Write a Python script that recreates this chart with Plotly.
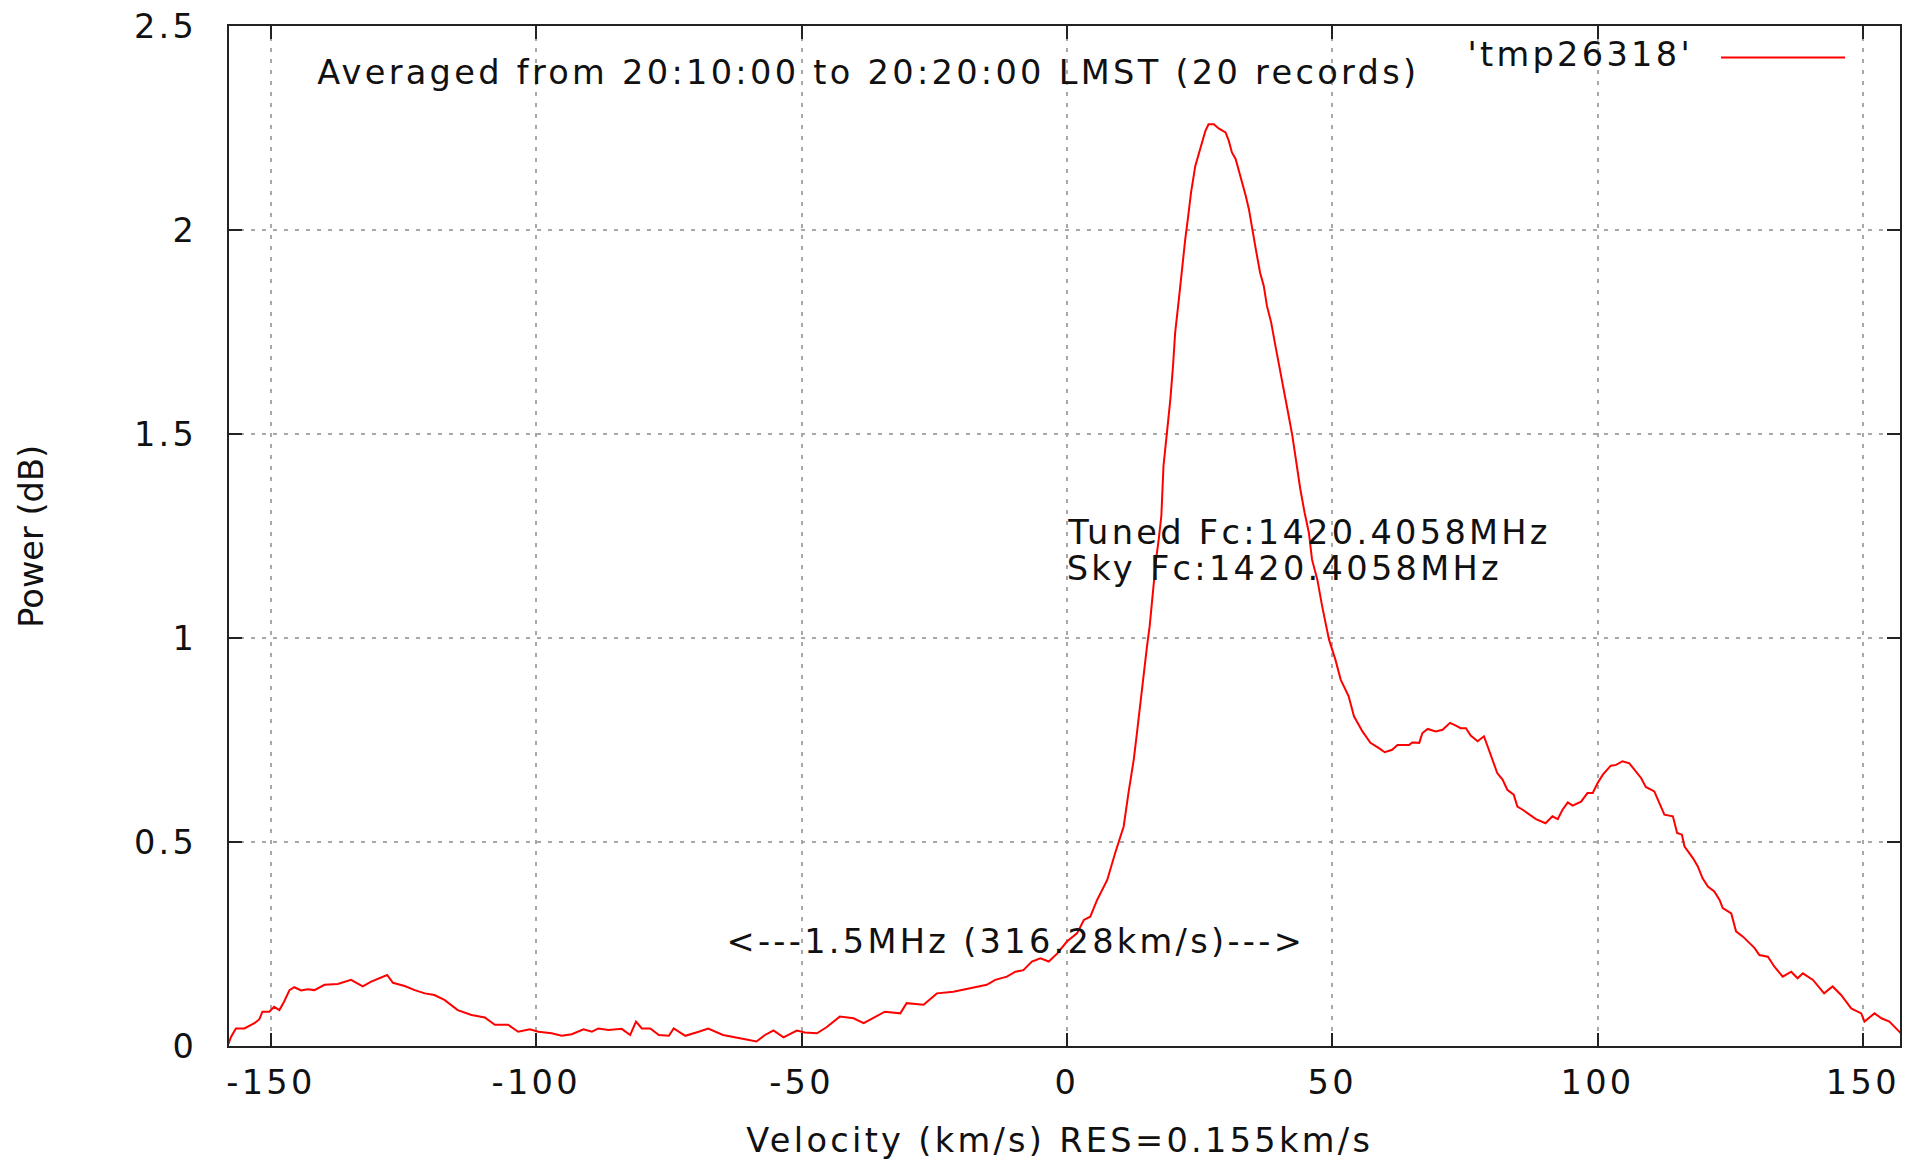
import plotly.graph_objects as go

# Averaged HI spectrum: velocity (km/s) vs power (dB)
velocity = [
    -158.0, -157.5, -156.6, -155.0, -153.1, -152.2, -151.6, -150.3, -149.4, -148.4,
    -147.5, -146.5, -145.6, -144.3, -143.1, -141.8, -139.9, -137.4, -134.9, -132.7,
    -131.1, -129.6, -128.1, -127.0, -124.8, -122.9, -121.0, -119.2, -117.3, -114.8,
    -112.2, -109.7, -107.8, -105.3, -103.4, -101.2, -99.6, -97.1, -95.2, -93.3,
    -91.1, -89.5, -88.3, -86.4, -83.9, -82.3, -81.2, -80.1, -78.5, -76.9,
    -75.0, -74.1, -71.9, -69.4, -67.6, -64.8, -62.9, -60.4, -58.5, -56.9,
    -55.3, -53.4, -50.9, -49.4, -47.1, -45.3, -42.8, -40.2, -38.3, -36.5,
    -34.3, -31.4, -30.2, -27.0, -24.5, -21.4, -18.2, -15.1, -13.5, -11.3,
    -9.7, -8.2, -6.6, -5.0, -3.4, -1.8, 0.0, 1.9, 3.2, 4.4,
    5.7, 7.6, 9.1, 10.7, 11.6, 12.6, 13.2, 13.8, 14.4, 15.1,
    15.6, 16.1, 16.8, 17.3, 17.8, 18.2, 18.9, 19.5, 20.0, 20.4,
    21.1, 21.7, 22.3, 22.8, 23.4, 24.2, 25.2, 26.1, 26.7, 27.7,
    28.6, 29.9, 30.5, 31.1, 31.8, 32.4, 33.0, 33.7, 34.3, 34.9,
    35.6, 36.4, 37.1, 37.7, 38.5, 39.3, 40.3, 40.9, 41.8, 42.5,
    43.1, 44.0, 44.8, 45.6, 46.2, 47.2, 48.1, 49.4, 50.6, 51.6,
    53.1, 54.1, 55.7, 57.2, 58.8, 59.9, 61.3, 62.3, 64.5, 65.1,
    66.4, 67.0, 68.0, 69.5, 70.8, 72.2, 73.3, 74.2, 75.2, 76.1,
    77.4, 78.6, 79.3, 80.2, 81.1, 82.1, 83.0, 84.2, 84.9, 85.9,
    87.1, 88.4, 90.2, 91.5, 92.5, 93.4, 94.4, 95.3, 96.9, 98.1,
    99.1, 100.0, 101.0, 102.5, 103.5, 104.7, 106.0, 107.2, 108.2, 109.1,
    110.7, 112.6, 114.2, 115.0, 115.9, 116.4, 118.0, 118.9, 119.8, 120.8,
    122.0, 123.0, 123.6, 125.2, 126.1, 127.4, 128.3, 129.6, 130.5, 132.1,
    133.3, 134.9, 136.5, 137.7, 138.7, 140.6, 142.7, 144.3, 145.9, 147.8,
    149.7, 150.3, 152.2, 153.5, 155.0, 156.9, 157.4,
]
power_db = [
    0.005, 0.023, 0.043, 0.043, 0.056, 0.065, 0.084, 0.084, 0.096, 0.088,
    0.109, 0.137, 0.144, 0.136, 0.139, 0.137, 0.150, 0.152, 0.162, 0.146,
    0.158, 0.166, 0.174, 0.155, 0.147, 0.137, 0.129, 0.125, 0.113, 0.088,
    0.076, 0.070, 0.052, 0.052, 0.035, 0.041, 0.035, 0.031, 0.025, 0.029,
    0.041, 0.035, 0.043, 0.039, 0.042, 0.027, 0.060, 0.043, 0.043, 0.027,
    0.025, 0.043, 0.025, 0.035, 0.043, 0.027, 0.023, 0.016, 0.011, 0.027,
    0.038, 0.021, 0.038, 0.033, 0.031, 0.046, 0.072, 0.068, 0.056, 0.068,
    0.084, 0.080, 0.105, 0.101, 0.129, 0.133, 0.141, 0.150, 0.162, 0.170,
    0.182, 0.186, 0.207, 0.215, 0.207, 0.227, 0.256, 0.276, 0.309, 0.317,
    0.358, 0.407, 0.473, 0.538, 0.620, 0.702, 0.767, 0.833, 0.914, 0.980,
    1.029, 1.102, 1.192, 1.241, 1.299, 1.421, 1.503, 1.585, 1.667, 1.748,
    1.830, 1.912, 1.977, 2.027, 2.092, 2.157, 2.206, 2.243, 2.259, 2.259,
    2.249, 2.239, 2.219, 2.190, 2.174, 2.145, 2.121, 2.084, 2.051, 2.010,
    1.953, 1.896, 1.863, 1.814, 1.773, 1.716, 1.650, 1.601, 1.544, 1.495,
    1.438, 1.364, 1.307, 1.258, 1.192, 1.143, 1.078, 0.996, 0.947, 0.898,
    0.857, 0.808, 0.771, 0.743, 0.730, 0.720, 0.726, 0.738, 0.738, 0.744,
    0.743, 0.767, 0.777, 0.771, 0.775, 0.792, 0.785, 0.779, 0.779, 0.761,
    0.747, 0.759, 0.734, 0.702, 0.669, 0.653, 0.628, 0.616, 0.587, 0.579,
    0.567, 0.556, 0.546, 0.563, 0.556, 0.579, 0.597, 0.589, 0.599, 0.620,
    0.620, 0.644, 0.665, 0.687, 0.689, 0.698, 0.693, 0.673, 0.657, 0.635,
    0.624, 0.567, 0.563, 0.522, 0.518, 0.489, 0.460, 0.440, 0.411, 0.391,
    0.379, 0.358, 0.338, 0.325, 0.281, 0.268, 0.256, 0.240, 0.223, 0.219,
    0.195, 0.170, 0.182, 0.166, 0.178, 0.162, 0.129, 0.146, 0.125, 0.092,
    0.080, 0.060, 0.080, 0.068, 0.060, 0.035, 0.028,
]

x_tick_vals = [-150, -100, -50, 0, 50, 100, 150]
x_tick_text = ["-150", "-100", "-50", "0", "50", "100", "150"]
y_tick_vals = [0, 0.5, 1, 1.5, 2, 2.5]
y_tick_text = ["0", "0.5", "1", "1.5", "2", "2.5"]

series_name = "'tmp26318'"
y_title = "Power (dB)"
FONT = "DejaVu Sans"
TXT = "#111111"
FS = 33.6

fig = go.Figure()
fig.add_trace(go.Scatter(
    x=velocity, y=power_db, mode="lines", name=series_name,
    line=dict(color="#ff0000", width=2), showlegend=False,
))

axis_common = dict(
    showline=True, linecolor="#222222", linewidth=2, mirror="ticks",
    ticks="inside", ticklen=13, tickwidth=2, tickcolor="#222222",
    showgrid=True, gridcolor="#a8a8a8", gridwidth=1.5, griddash="4px,7px",
    zeroline=False, tickfont=dict(family=FONT, size=FS, color=TXT),
)

fig.update_xaxes(range=[-157.9, 157.0], tickvals=x_tick_vals, ticktext=x_tick_text,
                 ticklabelstandoff=6, **axis_common)
fig.update_yaxes(range=[0, 2.5], tickvals=y_tick_vals, ticktext=y_tick_text,
                 ticklabelstandoff=23, **axis_common)

annotations = [
    dict(text="Averaged from 20:10:00 to 20:20:00 LMST (20 records)",
         x=-37.3, y=2.385, xref="x", yref="y"),
    dict(text="Tuned Fc:1420.4058MHz", x=45.7, y=1.258, xref="x", yref="y"),
    dict(text="Sky Fc:1420.4058MHz", x=41.0, y=1.170, xref="x", yref="y"),
    dict(text="<---1.5MHz (316.28km/s)--->", x=-9.5, y=0.256, xref="x", yref="y"),
    dict(text=series_name, x=0.8084, y=0.9716, xref="paper", yref="paper"),
    dict(text="Velocity (km/s) RES=0.155km/s", x=0.4973, y=-0.0926,
         xref="paper", yref="paper"),
    dict(text=y_title, x=-0.1179, y=0.5003, xref="paper", yref="paper",
         textangle=-90),
]
for a in annotations:
    a.update(showarrow=False, xanchor="center", yanchor="middle",
             font=dict(family=FONT, size=FS, color=TXT))

fig.update_layout(
    width=1918, height=1160,
    margin=dict(l=229, r=18, t=26, b=114, autoexpand=False),
    paper_bgcolor="white", plot_bgcolor="white",
    annotations=annotations,
    shapes=[dict(type="line", xref="paper", yref="paper",
                 x0=0.8929, x1=0.9671, y0=0.9691, y1=0.9691,
                 line=dict(color="#ff0000", width=2))],
)

# gnuplot-style wide lettering on the horizontal labels
spacing_js = """
var gd = document.getElementById('{plot_id}');
gd.querySelectorAll('text').forEach(function (t) {
  if (t.textContent !== %s) { t.setAttribute('letter-spacing', '3.3px'); }
});
""" % repr(y_title)

fig.write_html("out.html", post_script=spacing_js)
